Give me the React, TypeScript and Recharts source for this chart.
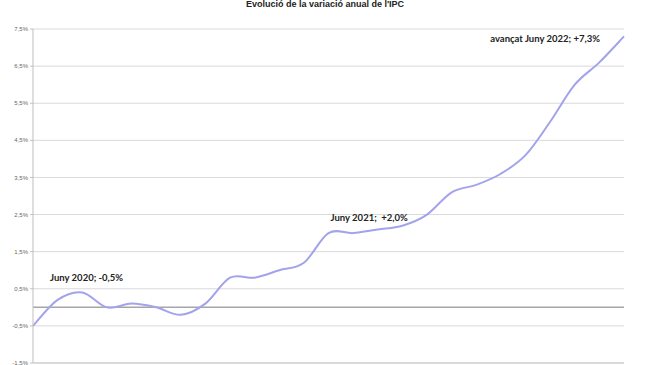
import { LineChart, Line, XAxis, YAxis, CartesianGrid, ReferenceLine, LabelList } from 'recharts';

const months = [
  'Jun 20', 'Jul 20', 'Aug 20', 'Sep 20', 'Oct 20', 'Nov 20', 'Dec 20',
  'Jan 21', 'Feb 21', 'Mar 21', 'Apr 21', 'May 21', 'Jun 21', 'Jul 21',
  'Aug 21', 'Sep 21', 'Oct 21', 'Nov 21', 'Dec 21', 'Jan 22', 'Feb 22',
  'Mar 22', 'Apr 22', 'May 22', 'Jun 22',
];

const ipc = [
  -0.5, 0.2, 0.4, 0.0, 0.1, 0.0, -0.2, 0.1, 0.8, 0.8, 1.0, 1.2, 2.0,
  2.0, 2.1, 2.2, 2.5, 3.1, 3.3, 3.6, 4.1, 5.0, 6.0, 6.6, 7.3,
];

const yTicks = [-1.5, -0.5, 0.5, 1.5, 2.5, 3.5, 4.5, 5.5, 6.5, 7.5];

const notes: Record<number, string> = {
  0: 'Juny 2020; -0,5%',
  12: 'Juny 2021;  +2,0%',
  24: 'avançat Juny 2022; +7,3%',
};

const data = months.map((m, i) => ({ month: m, ipc: ipc[i] }));

const fmt = (v: number) => `${v.toFixed(1).replace('.', ',')}%`;

// spreadsheet-style smoothed line (uniform Catmull-Rom)
function smoothCurve(context: any) {
  let pts: number[][] = [];
  return {
    areaStart() {},
    areaEnd() {},
    lineStart() {
      pts = [];
    },
    lineEnd() {
      if (!pts.length) return;
      context.moveTo(pts[0][0], pts[0][1]);
      for (let i = 0; i < pts.length - 1; i++) {
        const p0 = pts[i - 1] || pts[i];
        const p1 = pts[i];
        const p2 = pts[i + 1];
        const p3 = pts[i + 2] || pts[i + 1];
        context.bezierCurveTo(
          p1[0] + (p2[0] - p0[0]) / 6,
          p1[1] + (p2[1] - p0[1]) / 6,
          p2[0] - (p3[0] - p1[0]) / 6,
          p2[1] - (p3[1] - p1[1]) / 6,
          p2[0],
          p2[1],
        );
      }
    },
    point(x: number, y: number) {
      pts.push([+x, +y]);
    },
  };
}

// offsets of each annotation relative to its point
const noteOffset: Record<number, { dx: number; dy: number; anchor: 'start' | 'end' }> = {
  0: { dx: 17, dy: -45, anchor: 'start' },
  12: { dx: 2, dy: -12, anchor: 'start' },
  24: { dx: -24, dy: 6, anchor: 'end' },
};

function NoteLabel(props: any) {
  const { x, y, index } = props;
  const text = notes[index];
  if (!text) return null;
  const o = noteOffset[index];
  return (
    <text
      x={x + o.dx}
      y={y + o.dy}
      textAnchor={o.anchor}
      fontFamily="Lato, 'Open Sans', sans-serif"
      fontWeight={700}
      fontSize={9.5}
      fill="#222"
      style={{ whiteSpace: 'pre' }}
    >
      {text}
    </text>
  );
}

export default function App() {
  return (
    <div style={{ position: 'absolute', left: 0, top: 0, width: 650, height: 365, background: '#fff' }}>
      <div
        style={{
          position: 'absolute',
          left: 0,
          top: -1,
          width: 650,
          textAlign: 'center',
          fontFamily: "'Liberation Sans', Arial, sans-serif",
          fontWeight: 700,
          fontSize: 9,
          color: '#222',
        }}
      >
        Evolució de la variació anual de l'IPC
      </div>
      <LineChart width={650} height={365} data={data} margin={{ top: 29, right: 26, bottom: 2, left: 5 }}>
        <CartesianGrid horizontal vertical={false} stroke="#d9d9d9" />
        <XAxis dataKey="month" hide />
        <YAxis
          domain={[-1.5, 7.5]}
          ticks={yTicks}
          width={28}
          tickFormatter={fmt}
          tick={{ fontSize: 6, fill: '#666', fontFamily: "'Liberation Sans', Arial, sans-serif" }}
          tickSize={3}
          stroke="#bfbfbf"
          interval={0}
        />
        <ReferenceLine y={0} stroke="#a6a6a6" strokeWidth={1.5} />
        <ReferenceLine y={-1.5} stroke="#c8c8c8" strokeWidth={1} />
        <Line
          type={smoothCurve as any}
          dataKey="ipc"
          stroke="#a3a3ec"
          strokeWidth={2}
          dot={false}
          isAnimationActive={false}
        >
          <LabelList dataKey="ipc" content={NoteLabel} />
        </Line>
      </LineChart>
    </div>
  );
}
